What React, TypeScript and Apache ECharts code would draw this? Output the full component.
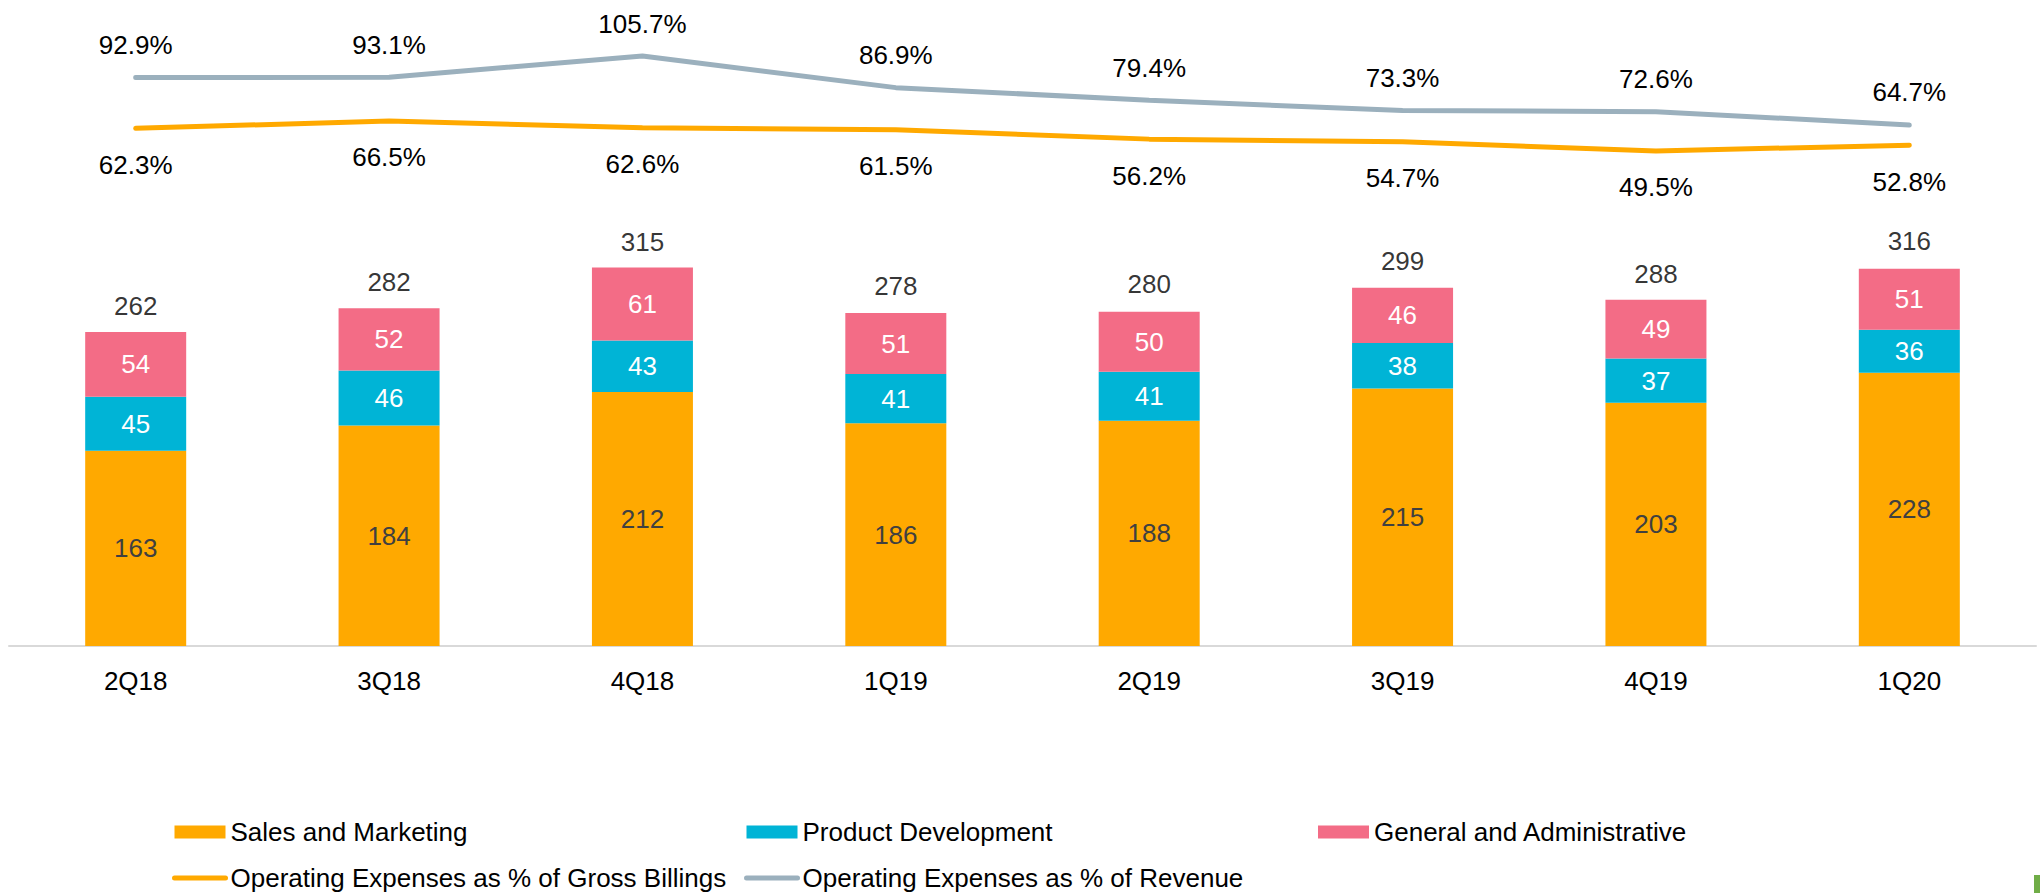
import React, { useEffect, useRef } from "react";
import * as echarts from "echarts";

const categories = ["2Q18", "3Q18", "4Q18", "1Q19", "2Q19", "3Q19", "4Q19", "1Q20"];
const salesMarketing = [163, 184, 212, 186, 188, 215, 203, 228];
const productDev = [45, 46, 43, 41, 41, 38, 37, 36];
const generalAdmin = [54, 52, 61, 51, 50, 46, 49, 51];
const totals = [262, 282, 315, 278, 280, 299, 288, 316];
const opexGrossBillings = [62.3, 66.5, 62.6, 61.5, 56.2, 54.7, 49.5, 52.8];
const opexRevenue = [92.9, 93.1, 105.7, 86.9, 79.4, 73.3, 72.6, 64.7];

const ORANGE = "#FFA900";
const CYAN = "#00B4D6";
const PINK = "#F36C86";
const GRAY = "#9BB0BD";
const FONT = "'Liberation Sans', Arial, sans-serif";

const N_SM = "Sales and Marketing";
const N_PD = "Product Development";
const N_GA = "General and Administrative";
const N_GB = "Operating Expenses as % of Gross Billings";
const N_RV = "Operating Expenses as % of Revenue";

export default function App() {
  const ref = useRef<HTMLDivElement>(null);
  useEffect(() => {
    if (!ref.current) return;
    const chart = echarts.init(ref.current, null, { renderer: "svg" });
    const legendCommon = {
      orient: "vertical" as const,
      top: 818,
      height: 200,
      padding: 0,
      itemWidth: 51,
      itemHeight: 13,
      itemGap: 18,
      lineStyle: { width: 5, cap: "round" as const },
      textStyle: { fontSize: 26, color: "#000", fontFamily: FONT, lineHeight: 28 },
      selectedMode: false,
    };
    const lineLegendItem = (name: string) => ({ name, itemStyle: { opacity: 0 } });
    chart.setOption({
      animation: false,
      backgroundColor: "#fff",
      textStyle: { fontFamily: FONT },
      grid: { left: 9, right: 4, top: 47, bottom: 247 },
      legend: [
        { ...legendCommon, left: 172, data: [{ name: N_SM, icon: "rect" }, lineLegendItem(N_GB)] },
        { ...legendCommon, left: 744, data: [{ name: N_PD, icon: "rect" }, lineLegendItem(N_RV)] },
        { ...legendCommon, left: 1318, data: [{ name: N_GA, icon: "rect" }] },
      ],
      xAxis: {
        type: "category",
        data: categories,
        axisLine: { show: true, lineStyle: { color: "#D9D9D9", width: 2 } },
        axisTick: { show: false },
        axisLabel: { fontSize: 26, color: "#000", margin: 22, fontFamily: FONT },
      },
      yAxis: [
        { type: "value", min: 0, max: 500, show: false },
        { type: "value", min: -231, max: 108.4, show: false },
        { type: "value", min: -244.9, max: 111.05, show: false },
      ],
      graphic: [
        { type: "rect", shape: { x: 2034, y: 875, width: 6, height: 18 }, style: { fill: "#70AD47" } },
      ],
      series: [
        {
          name: N_SM,
          type: "bar",
          stack: "opex",
          barWidth: 101,
          data: salesMarketing,
          itemStyle: { color: ORANGE },
          label: { show: true, position: "inside", fontSize: 26, color: "#404040", fontFamily: FONT },
        },
        {
          name: N_PD,
          type: "bar",
          stack: "opex",
          barWidth: 101,
          data: productDev,
          itemStyle: { color: CYAN },
          label: { show: true, position: "inside", fontSize: 26, color: "#fff", fontFamily: FONT },
        },
        {
          name: N_GA,
          type: "bar",
          stack: "opex",
          barWidth: 101,
          data: generalAdmin,
          itemStyle: { color: PINK },
          label: { show: true, position: "inside", fontSize: 26, color: "#fff", fontFamily: FONT },
        },
        {
          name: "Total",
          type: "scatter",
          data: totals,
          symbolSize: 1,
          itemStyle: { color: "rgba(0,0,0,0)" },
          label: { show: true, position: "top", distance: 13, fontSize: 26, color: "#000", fontFamily: FONT },
          silent: true,
        },
        {
          name: N_GB,
          type: "line",
          yAxisIndex: 1,
          data: opexGrossBillings,
          symbol: "circle",
          symbolSize: 1,
          showSymbol: true,
          lineStyle: { color: ORANGE, width: 5, cap: "round" },
          itemStyle: { color: "rgba(0,0,0,0)" },
          label: {
            show: true,
            position: "bottom",
            distance: 23,
            fontSize: 26,
            color: "#000",
            fontFamily: FONT,
            formatter: (p: any) => p.value.toFixed(1) + "%",
          },
        },
        {
          name: N_RV,
          type: "line",
          yAxisIndex: 2,
          data: opexRevenue,
          symbol: "circle",
          symbolSize: 1,
          showSymbol: true,
          lineStyle: { color: GRAY, width: 5, cap: "round" },
          itemStyle: { color: "rgba(0,0,0,0)" },
          label: {
            show: true,
            position: "top",
            distance: 19,
            fontSize: 26,
            color: "#000",
            fontFamily: FONT,
            formatter: (p: any) => p.value.toFixed(1) + "%",
          },
        },
      ],
    });
    return () => chart.dispose();
  }, []);
  return (
    <div
      ref={ref}
      style={{ position: "fixed", left: 0, top: 0, width: 2040, height: 893 }}
    />
  );
}
